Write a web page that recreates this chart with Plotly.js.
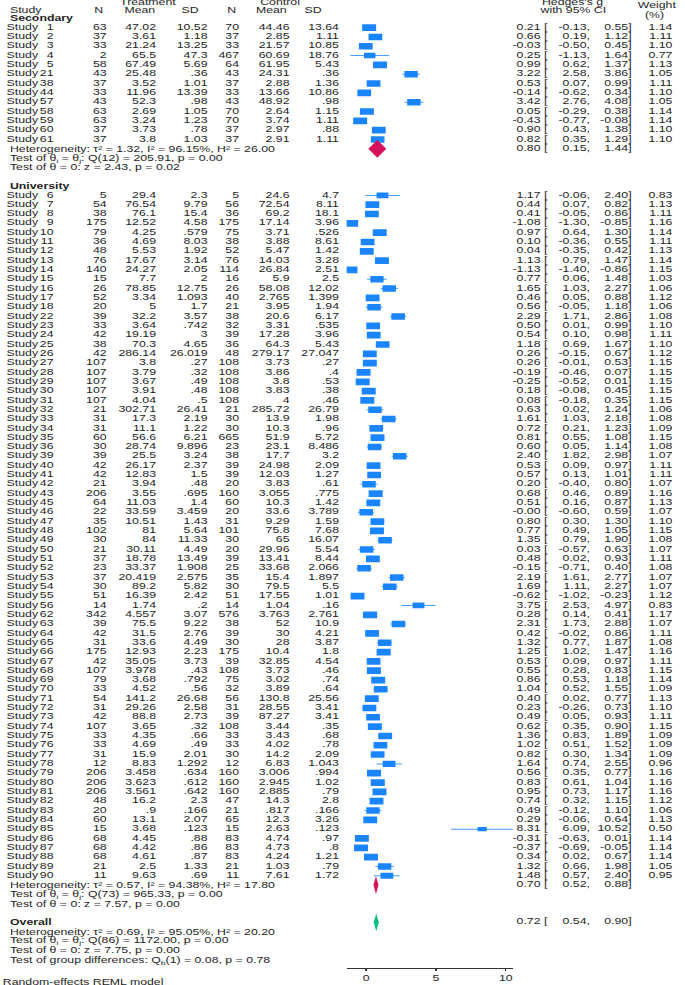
<!DOCTYPE html>
<html><head><meta charset="utf-8">
<script src="https://cdn.plot.ly/plotly-3.0.1.min.js"></script>
<style>
html,body{margin:0;padding:0;background:#fff;overflow:hidden;}
#wrap{width:479px;height:985px;transform:scaleX(1.43);transform-origin:0 0;}
</style></head><body><div id="wrap"><div id="chart"></div></div>
<script>
// ---------- Secondary ----------
const secIds   = [1,2,3,4,5,21,38,44,57,58,59,60,61];
const secTN    = [63,37,33,2,58,43,37,33,43,63,63,37,37];
const secTMean = ["47.02","3.61","21.24","65.5","67.49","25.48","3.52","11.96","52.3","2.69","3.24","3.73","3.8"];
const secTSD   = ["10.52","1.18","13.25","47.3","5.69",".36","1.01","13.39",".98","1.05","1.23",".78","1.03"];
const secCN    = [70,37,33,467,64,43,37,33,43,70,70,37,37];
const secCMean = ["44.46","2.85","21.57","60.69","61.95","24.31","2.88","13.66","48.92","2.64","3.74","2.97","2.91"];
const secCSD   = ["13.64","1.11","10.85","18.76","5.43",".36","1.36","10.86",".98","1.15","1.11",".88","1.11"];
const secG     = [0.21,0.66,-0.03,0.25,0.99,3.22,0.53,-0.14,3.42,0.05,-0.43,0.90,0.82];
const secLo    = [-0.13,0.19,-0.50,-1.13,0.62,2.58,0.07,-0.62,2.76,-0.29,-0.77,0.43,0.35];
const secHi    = [0.55,1.12,0.45,1.64,1.37,3.86,0.99,0.34,4.08,0.38,-0.08,1.38,1.29];
const secW     = [1.14,1.11,1.10,0.77,1.13,1.05,1.11,1.10,1.05,1.14,1.14,1.10,1.10];

// ---------- University ----------
const uniIds   = [6,7,8,9,10,11,12,13,14,15,16,17,18,22,23,24,25,26,27,28,29,30,31,32,33,34,35,36,39,40,41,42,43,45,46,47,48,49,50,51,52,53,54,55,56,62,63,64,65,66,67,68,69,70,71,72,73,74,75,76,77,78,79,80,81,82,83,84,85,86,87,88,89,90];
const uniTN    = [5,54,38,175,79,36,48,76,140,15,26,52,20,39,33,42,38,42,107,107,107,107,107,21,31,31,60,30,39,42,42,21,206,64,22,35,102,30,21,37,23,37,30,51,14,342,39,42,31,175,42,107,79,33,54,31,42,107,33,33,31,12,206,206,206,48,20,60,15,68,68,68,21,11];
const uniTMean = ["29.4","76.54","76.1","12.52","4.25","4.69","5.53","17.67","24.27","7.7","78.85","3.34","5","32.2","3.64","19.19","70.3","286.14","3.8","3.79","3.67","3.91","4.04","302.71","17.3","11.1","56.6","28.74","25.5","26.17","12.83","3.94","3.55","11.03","33.59","10.51","81","84","30.11","18.78","33.37","20.419","89.2","16.39","1.74","4.557","75.5","31.5","33.6","12.93","35.05","3.978","3.68","4.52","141.2","29.26","88.8","3.65","4.35","4.69","15.9","8.83","3.458","3.623","3.561","16.2",".9","13.1","3.68","4.45","4.42","4.61","2.5","9.63"];
const uniTSD   = ["2.3","9.79","15.4","4.58",".579","8.03","1.92","3.14","2.05","2","12.75","1.093","1.7","3.57",".742","3","4.65","26.019",".27",".32",".49",".48",".5","26.41","2.19","1.22","6.21","9.896","3.24","2.37","1.5",".48",".695","1.4","3.459","1.43","5.64","11.33","4.49","13.49","1.908","2.575","5.82","2.42",".2","3.07","9.22","2.76","4.49","2.23","3.73",".43",".792",".56","26.68","2.58","2.73",".32",".66",".49","2.01","1.292",".634",".612",".642","2.3",".166","2.07",".123",".88",".86",".87","1.33",".69"];
const uniCN    = [5,56,36,175,75,38,52,76,114,16,26,40,21,38,32,39,36,48,108,108,108,108,108,21,30,30,665,23,38,39,39,20,160,60,20,31,101,30,20,39,25,35,30,51,14,576,38,39,30,175,39,108,75,32,56,31,39,108,33,33,30,12,160,160,160,47,21,65,15,83,83,83,21,11];
const uniCMean = ["24.6","72.54","69.2","17.14","3.71","3.88","5.47","14.03","26.84","5.9","58.08","2.765","3.95","20.6","3.31","17.28","64.3","279.17","3.73","3.86","3.8","3.83","4","285.72","13.9","10.3","51.9","23.1","17.7","24.98","12.03","3.83","3.055","10.3","33.6","9.29","75.8","65","29.96","13.41","33.68","15.4","79.5","17.55","1.04","3.763","52","30","28","10.4","32.85","3.73","3.02","3.89","130.8","28.55","87.27","3.44","3.43","4.02","14.2","6.83","3.006","2.945","2.885","14.3",".817","12.3","2.63","4.74","4.73","4.24","1.03","7.61"];
const uniCSD   = ["4.7","8.11","18.1","3.96",".526","8.61","1.42","3.28","2.51","2.5","12.02","1.399","1.94","6.17",".535","3.96","5.43","27.047",".27",".4",".53",".38",".46","26.79","1.98",".96","5.72","8.486","3.2","2.09","1.27",".61",".775","1.42","3.789","1.59","7.68","16.07","5.54","8.44","2.066","1.897","5.5","1.01",".16","2.761","10.9","4.21","3.87","1.8","4.54",".46",".74",".64","25.56","3.41","3.41",".35",".68",".78","2.09","1.043",".994","1.02",".79","2.8",".166","3.26",".123",".97",".8","1.21",".79","1.72"];
const uniG     = [1.17,0.44,0.41,-1.08,0.97,0.10,0.04,1.13,-1.13,0.77,1.65,0.46,0.56,2.29,0.50,0.54,1.18,0.26,0.26,-0.19,-0.25,0.18,0.08,0.63,1.61,0.72,0.81,0.60,2.40,0.53,0.57,0.20,0.68,0.51,-0.00,0.80,0.77,1.35,0.03,0.48,-0.15,2.19,1.69,-0.62,3.75,0.28,2.31,0.42,1.32,1.25,0.53,0.55,0.86,1.04,0.40,0.23,0.49,0.62,1.36,1.02,0.82,1.64,0.56,0.83,0.95,0.74,0.49,0.29,8.31,-0.31,-0.37,0.34,1.32,1.48];
const uniLo    = [-0.06,0.07,-0.05,-1.30,0.64,-0.36,-0.35,0.79,-1.40,0.06,1.03,0.05,-0.05,1.71,0.01,0.10,0.69,-0.15,-0.01,-0.46,-0.52,-0.08,-0.18,0.02,1.03,0.21,0.55,0.05,1.82,0.09,0.13,-0.40,0.46,0.16,-0.60,0.30,0.49,0.79,-0.57,0.02,-0.71,1.61,1.11,-1.02,2.53,0.14,1.73,-0.02,0.77,1.02,0.09,0.28,0.53,0.52,0.02,-0.26,0.05,0.35,0.83,0.51,0.30,0.74,0.35,0.61,0.73,0.32,-0.12,-0.06,6.09,-0.63,-0.69,0.02,0.66,0.57];
const uniHi    = [2.40,0.82,0.86,-0.85,1.30,0.55,0.42,1.47,-0.86,1.48,2.27,0.88,1.18,2.86,0.99,0.98,1.67,0.67,0.53,0.07,0.01,0.45,0.35,1.24,2.18,1.23,1.08,1.14,2.98,0.97,1.01,0.80,0.89,0.87,0.59,1.30,1.05,1.90,0.63,0.93,0.40,2.77,2.27,-0.23,4.97,0.41,2.88,0.86,1.87,1.47,0.97,0.83,1.18,1.55,0.77,0.73,0.93,0.90,1.89,1.52,1.34,2.55,0.77,1.04,1.17,1.15,1.10,0.64,10.52,0.01,-0.05,0.67,1.98,2.40];
const uniW     = [0.83,1.13,1.11,1.16,1.14,1.11,1.13,1.14,1.15,1.03,1.06,1.12,1.06,1.08,1.10,1.11,1.10,1.12,1.15,1.15,1.15,1.15,1.15,1.06,1.08,1.09,1.15,1.08,1.07,1.11,1.11,1.07,1.16,1.13,1.07,1.10,1.15,1.08,1.07,1.11,1.08,1.07,1.07,1.12,0.83,1.17,1.07,1.11,1.08,1.16,1.11,1.15,1.14,1.09,1.13,1.10,1.11,1.15,1.09,1.09,1.09,0.96,1.16,1.16,1.16,1.12,1.06,1.13,0.50,1.14,1.14,1.14,1.05,0.95];

// ---------- Pooled estimates ----------
const poolNames = ["Secondary","University","Overall"];
const poolG  = [0.80,0.70,0.72];
const poolLo = [0.15,0.52,0.54];
const poolHi = [1.44,0.88,0.90];
const poolColors = ["#d41159","#d41159","#00bf7f"];

const axisTicks = [0,5,10];

// ---------- layout helpers (row index -> vertical position) ----------
const secRows = secIds.map((_,i)=>1+i);
const uniRows = uniIds.map((_,i)=>19+i);
const poolRows = [14, 93, 97];

const ids = secIds.concat(uniIds), rows = secRows.concat(uniRows);
const TN = secTN.concat(uniTN), TM = secTMean.concat(uniTMean), TS = secTSD.concat(uniTSD);
const CN = secCN.concat(uniCN), CM = secCMean.concat(uniCMean), CS = secCSD.concat(uniCSD);
const G = secG.concat(uniG), LO = secLo.concat(uniLo), HI = secHi.concat(uniHi), W = secW.concat(uniW);

const fmt2 = v => Object.is(v,-0) ? "-0.00" : v.toFixed(2);
const FONT = {family:"Liberation Sans, Arial, sans-serif", size:8.6, color:"#1e1e1e"};
const BLUE = "#1a85ff";

const traces = [];
// CI lines
traces.push({type:"scatter", mode:"markers", x:G, y:rows, xaxis:"x", yaxis:"y",
  marker:{size:1, opacity:0}, hoverinfo:"skip", cliponaxis:false,
  error_x:{type:"data", symmetric:false, array:G.map((g,i)=>HI[i]-g), arrayminus:G.map((g,i)=>g-LO[i]),
    width:0, thickness:1, color:"rgba(26,133,255,0.8)"}});
// weight boxes (area proportional to weight)
const hw = W.map(w=>0.5*Math.sqrt(w/1.14));
const hh = W.map(w=>0.36*Math.sqrt(w/1.14));
traces.push({type:"bar", orientation:"h", y:rows, x:hw.map(h=>2*h), base:G.map((g,i)=>g-hw[i]),
  width:hh.map(h=>2*h), marker:{color:BLUE, line:{width:0}}, xaxis:"x", yaxis:"y", hoverinfo:"skip"});
// diamonds
poolG.forEach((g,i)=>{
  const r = poolRows[i], h = 0.95;
  traces.push({type:"scatter", mode:"lines", fill:"toself", fillcolor:poolColors[i],
    x:[poolLo[i], g, poolHi[i], g, poolLo[i]], y:[r, r-h, r, r+h, r],
    line:{width:0, color:poolColors[i]}, xaxis:"x", yaxis:"y", hoverinfo:"skip", cliponaxis:false});
});

// text columns (x2 axis spans the whole width in pixel units 0..685)
function col(xpos, texts, yy, pos){
  traces.push({type:"scatter", mode:"text", x:yy.map(()=>xpos), y:yy, text:texts,
    textposition:pos, textfont:FONT, xaxis:"x2", yaxis:"y", hoverinfo:"skip", cliponaxis:false});
}
col(6.6, rows.map(()=>"Study"), rows, "middle right");
col(53.5, ids.map(String), rows, "middle left");
col(106.6, TN.map(String), rows, "middle left");
col(156, TM, rows, "middle left");
col(207.5, TS, rows, "middle left");
col(239, CN.map(String), rows, "middle left");
col(289.5, CM, rows, "middle left");
col(339, CS, rows, "middle left");
const allRowsR = rows.concat(poolRows);
const allG = G.concat(poolG), allLo = LO.concat(poolLo), allHi = HI.concat(poolHi);
col(547.4, allG.map(v=>fmt2(v)+" ["), allRowsR, "middle left");
col(590, allLo.map(v=>fmt2(v)+","), allRowsR, "middle left");
col(631.6, allHi.map(v=>fmt2(v)+"]"), allRowsR, "middle left");
col(672.4, W.map(fmt2), rows, "middle left");

// annotations: headers and summary text
const ann = [];
function txt(x, r, t, anchor){ ann.push({xref:"paper", yref:"y", x:x/685, y:r, text:t, showarrow:false,
  xanchor:anchor, yanchor:"middle", font:FONT}); }
txt(148.7,-1.75,"Treatment","center");
txt(280,-1.75,"Control","center");
txt(572.4,-1.78,"Hedges's g","center");
txt(657,-1.43,"Weight","center");
txt(6.6,-0.89,"Study","left");
txt(98,-0.89,"N","center");
txt(140,-0.89,"Mean","center");
txt(189.5,-0.89,"SD","center");
txt(231.4,-0.89,"N","center");
txt(271.5,-0.89,"Mean","center");
txt(312.7,-0.89,"SD","center");
txt(573,-0.89,"with 95% CI","center");
txt(655,-0.35,"(%)","center");
txt(6.6,0,"<b>Secondary</b>","left");
txt(6.6,14,"Heterogeneity: τ² = 1.32, I² = 96.15%, H² = 26.00","left");
txt(6.6,15,"Test of θ<sub>i</sub> = θ<sub>j</sub>: Q(12) = 205.91, p = 0.00","left");
txt(6.6,16,"Test of θ = 0: z = 2.43, p = 0.02","left");
txt(6.6,18,"<b>University</b>","left");
txt(6.6,93,"Heterogeneity: τ² = 0.57, I² = 94.38%, H² = 17.80","left");
txt(6.6,94,"Test of θ<sub>i</sub> = θ<sub>j</sub>: Q(73) = 965.33, p = 0.00","left");
txt(6.6,95,"Test of θ = 0: z = 7.57, p = 0.00","left");
txt(6.6,97,"<b>Overall</b>","left");
txt(6.6,98,"Heterogeneity: τ² = 0.69, I² = 95.05%, H² = 20.20","left");
txt(6.6,99,"Test of θ<sub>i</sub> = θ<sub>j</sub>: Q(86) = 1172.00, p = 0.00","left");
txt(6.6,100,"Test of θ = 0: z = 7.75, p = 0.00","left");
txt(6.6,101.1,"Test of group differences: Q<sub>b</sub>(1) = 0.08, p = 0.78","left");
ann.push({xref:"paper", yref:"paper", x:0.001, y:-0.0145, text:"Random-effects REML model", showarrow:false,
  xanchor:"left", yanchor:"middle", font:FONT});

const layout = {
  width:479, height:985, margin:{l:0, r:0, t:0, b:17},
  paper_bgcolor:"#fff", plot_bgcolor:"rgba(0,0,0,0)",
  showlegend:false, barmode:"overlay", font:FONT,
  xaxis:{domain:[0.5061,0.7489], range:[-1.40,10.52], anchor:"y", showline:true, linecolor:"#333", linewidth:1,
    ticks:"outside", ticklen:2, tickwidth:1, tickcolor:"#333", tickvals:axisTicks, ticktext:axisTicks.map(String),
    tickfont:FONT, showgrid:false, zeroline:false, fixedrange:true},
  xaxis2:{domain:[0,1], range:[0,685], anchor:"y", visible:false, fixedrange:true},
  yaxis:{domain:[0,1], range:[101.899,-1.9635], visible:false, showgrid:false, zeroline:false, fixedrange:true},
  annotations:ann
};
Plotly.newPlot("chart", traces, layout, {staticPlot:true, displayModeBar:false});
</script></body></html>
